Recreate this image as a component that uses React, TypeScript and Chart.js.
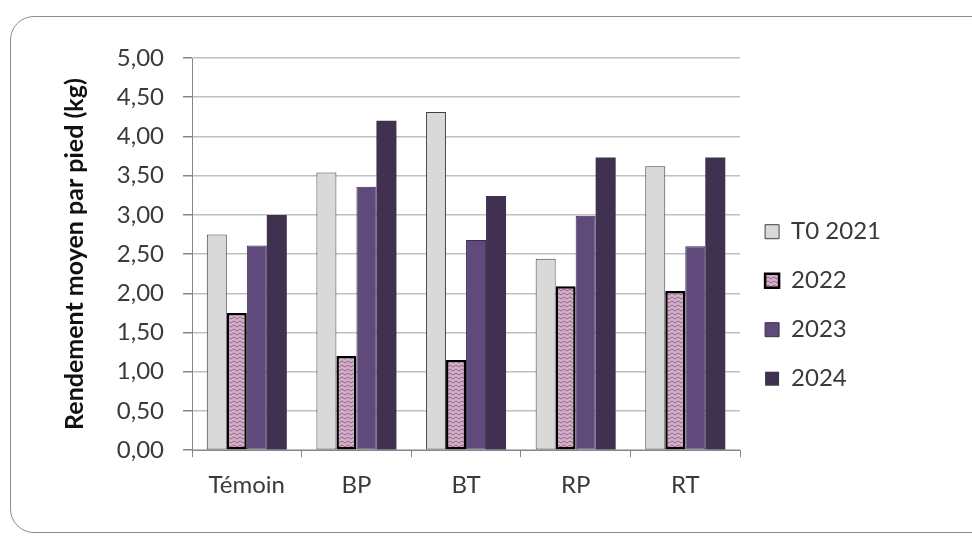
import { useEffect, useRef } from 'react';
import { Chart, registerables } from 'chart.js';

Chart.register(...registerables);

const categories = ['Témoin', 'BP', 'BT', 'RP', 'RT'];
const seriesLabels = ['T0 2021', '2022', '2023', '2024'];
const valuesT0_2021 = [2.75, 3.54, 4.31, 2.44, 3.62];
const values2022 = [1.75, 1.2, 1.15, 2.09, 2.03];
const values2023 = [2.61, 3.36, 2.68, 2.99, 2.6];
const values2024 = [3.0, 4.2, 3.24, 3.73, 3.73];
const yMin = 0;
const yMax = 5;
const yStep = 0.5;
const yTitle = 'Rendement moyen par pied (kg)';

const FONT = 'Lato, "Open Sans", sans-serif';
const TEXT = '#3a3a3a';

function makeZigzag(): CanvasPattern | string {
  const c = document.createElement('canvas');
  c.width = 6;
  c.height = 4;
  const g = c.getContext('2d');
  if (!g) return '#c5b3da';
  g.fillStyle = '#c5b3da';
  g.fillRect(0, 0, 6, 4);
  g.strokeStyle = '#c0504d';
  g.lineWidth = 0.9;
  g.beginPath();
  g.moveTo(0, 1);
  g.lineTo(3, 3);
  g.lineTo(6, 1);
  g.stroke();
  const p = g.createPattern(c, 'repeat');
  return p || '#c5b3da';
}

export default function App() {
  const ref = useRef<HTMLCanvasElement>(null);

  useEffect(() => {
    const canvas = ref.current;
    if (!canvas) return;
    const pattern = makeZigzag();
    const chart = new Chart(canvas, {
      type: 'bar',
      data: {
        labels: categories,
        datasets: [
          {
            label: seriesLabels[0],
            data: valuesT0_2021,
            backgroundColor: '#D9D9D9',
            borderColor: '#404040',
            borderWidth: 1,
            borderSkipped: false,
          },
          {
            label: seriesLabels[1],
            data: values2022,
            backgroundColor: pattern as any,
            borderColor: '#000000',
            borderWidth: 2.5,
            borderSkipped: false,
          },
          {
            label: seriesLabels[2],
            data: values2023,
            backgroundColor: '#604A7B',
            borderColor: '#3B2D4C',
            borderWidth: 1,
            borderSkipped: false,
          },
          {
            label: seriesLabels[3],
            data: values2024,
            backgroundColor: '#403151',
            borderWidth: 0,
          },
        ],
      },
      options: {
        animation: false,
        responsive: false,
        maintainAspectRatio: false,
        layout: { padding: { left: 60, right: 81, top: 58, bottom: 22 } },
        datasets: { bar: { categoryPercentage: 0.73, barPercentage: 1 } },
        scales: {
          x: {
            grid: {
              display: true,
              drawOnChartArea: false,
              offset: true,
              tickLength: 7,
              color: '#868686',
              tickColor: '#868686',
            },
            border: { color: '#868686', width: 1 },
            ticks: { font: { family: FONT, size: 24 }, color: TEXT, padding: 14 },
          },
          y: {
            min: yMin,
            max: yMax,
            afterFit: (scale: any) => {
              scale.width = 132;
            },
            ticks: {
              stepSize: yStep,
              font: { family: FONT, size: 24 },
              color: TEXT,
              padding: 19,
              callback: (v: any) => Number(v).toFixed(2).replace('.', ','),
            },
            grid: { color: '#C0C0C0', lineWidth: 1.5, tickLength: 9, tickColor: '#868686' },
            border: { color: '#868686', width: 1 },
            title: {
              display: true,
              text: yTitle,
              font: { family: FONT, size: 25, weight: 'bold' },
              color: '#111111',
              padding: { top: 0, bottom: 0 },
            },
          },
        },
        plugins: {
          legend: {
            position: 'right',
            align: 'center',
            title: { display: true, text: ' ', font: { size: 12 }, padding: { top: 24, bottom: 0 } },
            labels: {
              font: { family: FONT, size: 24 },
              color: TEXT,
              boxWidth: 14,
              boxHeight: 14,
              padding: 25,
            },
          },
          tooltip: { enabled: false },
        },
      },
    });
    return () => chart.destroy();
  }, []);

  return (
    <div style={{ position: 'fixed', left: 0, top: 0, width: 972, height: 536, overflow: 'hidden', background: '#fff' }}>
      <div
        style={{
          position: 'absolute',
          left: 10,
          top: 16,
          width: 1000,
          height: 517,
          border: '1px solid #8c8c8c',
          borderRadius: 24,
          boxSizing: 'border-box',
        }}
      />
      <canvas ref={ref} width={972} height={536} style={{ position: 'absolute', left: 0, top: 0, width: 972, height: 536 }} />
    </div>
  );
}
